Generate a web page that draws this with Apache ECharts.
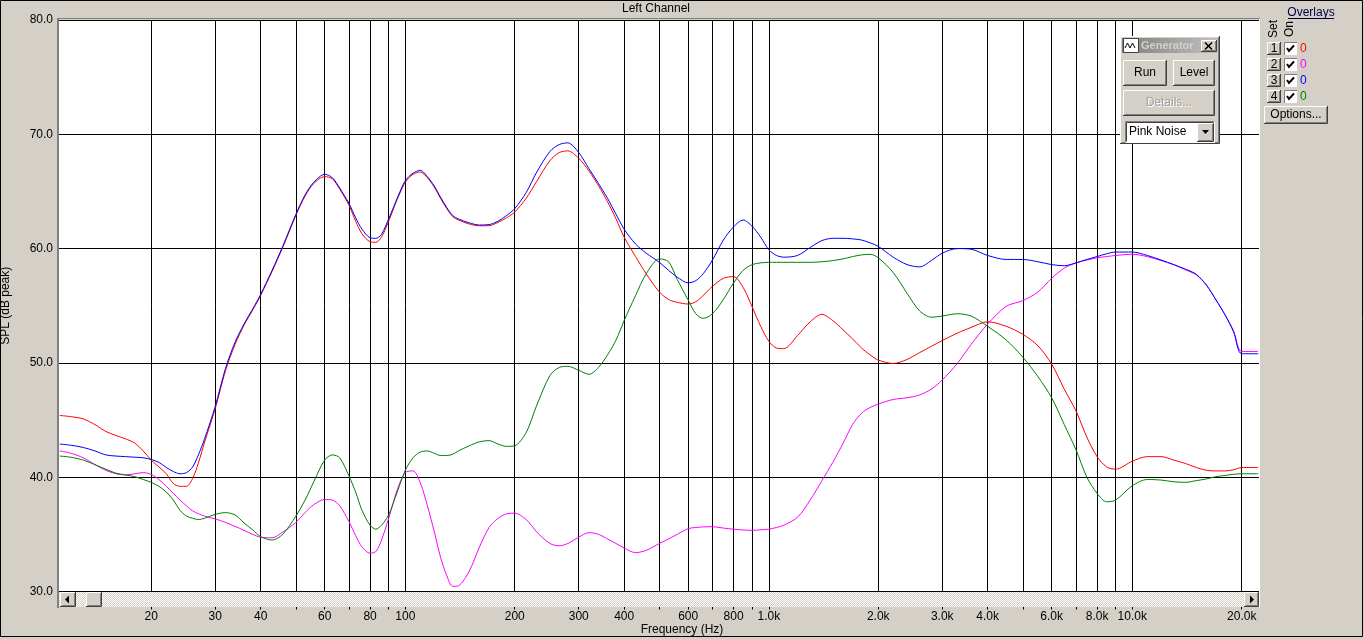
<!DOCTYPE html>
<html><head><meta charset="utf-8">
<script src="https://cdn.jsdelivr.net/npm/echarts@6/dist/echarts.min.js"></script>
<style>html,body{margin:0;padding:0;background:#D4D0C8;}#c{width:1364px;height:639px;}</style>
</head><body><div id="c"></div><script>
// Frequencies (Hz) shared by all overlays
const freqs = [11.2,12,13,14,15,16,17,18,19,20,
21,22,23,24,25,26,27,28,30,32,
34,36,38,40,43,46,50,53,56,60,
63,66,70,73,76,80,83,86,90,95,
100,105,110,115,120,125,130,135,140,150,
160,170,180,190,200,215,230,250,265,280,
300,320,340,360,380,400,430,460,500,530,
560,600,630,660,700,750,800,850,900,950,
1000,1050,1100,1200,1300,1400,1500,1600,1700,1800,
1900,2000,2200,2400,2600,2800,3000,3300,3600,4000,
4500,5000,5500,6000,6500,7000,7500,8000,8500,9000,
10000,11000,12000,13000,14000,15000,16000,17000,18000,19000,
20000,22200];
// Overlay 1 (red)
const set1 = [45.4,45.3,45.1,44.6,44.0,43.65,43.35,43.0,42.3,41.5,
40.9,40.3,39.45,39.2,39.2,39.9,41.3,43.0,46.0,49.3,
51.6,53.3,54.6,55.9,58.0,60.1,62.9,64.6,65.7,66.3,
66.1,65.2,63.8,62.4,61.3,60.6,60.55,61.0,62.4,64.3,
65.8,66.5,66.7,66.2,65.4,64.4,63.5,62.8,62.5,62.15,
62.0,62.0,62.3,62.7,63.2,64.4,65.9,67.7,68.4,68.55,
67.9,66.8,65.5,64.1,62.6,61.0,59.3,57.8,56.2,55.55,
55.3,55.15,55.35,55.9,56.7,57.4,57.55,56.6,54.9,53.2,
51.9,51.3,51.25,52.4,53.6,54.25,53.7,52.9,52.1,51.3,
50.7,50.25,49.95,50.3,50.9,51.45,51.95,52.6,53.1,53.6,
53.2,52.5,51.5,49.9,47.7,45.8,43.5,41.8,40.9,40.7,
41.4,41.8,41.8,41.5,41.2,40.85,40.6,40.55,40.55,40.65,
40.85,40.85];
// Overlay 2 (magenta)
const set2 = [42.3,42.1,41.7,41.1,40.6,40.3,40.2,40.3,40.4,40.25,
39.8,39.2,38.6,38.0,37.5,37.05,36.8,36.6,36.35,36.05,
35.7,35.35,35.0,34.75,34.7,35.2,36.05,36.9,37.6,38.05,
38.0,37.5,36.1,34.9,33.9,33.35,33.5,34.5,36.4,38.9,
40.4,40.55,39.5,37.5,35.3,33.0,31.4,30.45,30.5,31.8,
33.9,35.6,36.4,36.8,36.85,36.3,35.2,34.2,34.0,34.2,
34.75,35.15,35.0,34.6,34.2,33.8,33.4,33.6,34.2,34.6,
35.0,35.5,35.6,35.65,35.67,35.55,35.45,35.38,35.35,35.4,
35.45,35.6,35.8,36.5,38.0,39.7,41.3,42.95,44.6,45.6,
46.1,46.4,46.8,46.95,47.2,47.7,48.5,49.95,51.6,53.4,
54.95,55.45,56.2,57.4,58.3,58.75,59.0,59.2,59.3,59.4,
59.5,59.3,58.95,58.6,58.15,57.7,56.8,55.5,54.2,52.8,
51.0,51.0];
// Overlay 3 (blue)
const set3 = [42.9,42.8,42.6,42.3,41.95,41.85,41.8,41.75,41.7,41.55,
41.3,40.85,40.5,40.3,40.4,40.9,42.0,43.3,46.2,49.5,
51.8,53.4,54.7,56.0,58.1,60.2,63.0,64.7,65.8,66.5,
66.2,65.3,63.95,62.7,61.7,60.95,60.9,61.25,62.6,64.4,
65.95,66.6,66.85,66.3,65.5,64.5,63.6,62.9,62.6,62.25,
62.06,62.1,62.4,62.9,63.5,64.9,66.7,68.5,69.1,69.25,
68.4,67.0,65.7,64.4,63.0,61.7,60.4,59.6,58.8,58.1,
57.5,57.0,57.2,57.8,59.0,60.75,61.9,62.5,61.95,61.0,
59.9,59.4,59.25,59.4,60.1,60.7,60.9,60.9,60.85,60.75,
60.5,60.2,59.25,58.6,58.4,58.95,59.6,60.0,59.95,59.4,
59.05,59.05,58.85,58.6,58.5,58.75,59.05,59.3,59.55,59.7,
59.7,59.4,59.0,58.6,58.2,57.75,56.8,55.5,54.2,52.7,
50.8,50.8];
// Overlay 4 (green)
const set4 = [41.85,41.75,41.5,41.1,40.7,40.35,40.2,40.05,39.8,39.55,
39.2,38.7,38.0,37.1,36.6,36.4,36.3,36.4,36.75,36.9,
36.7,36.0,35.4,34.8,34.5,35.0,36.6,38.0,39.6,41.5,
41.95,41.7,40.1,38.7,37.1,35.8,35.45,35.8,36.7,38.7,
40.6,41.7,42.2,42.3,42.1,41.9,41.9,42.0,42.3,42.75,
43.1,43.2,42.9,42.7,42.75,43.9,46.3,48.9,49.6,49.7,
49.35,49.0,49.6,50.7,52.0,53.7,55.9,57.8,59.1,58.85,
57.3,55.5,54.3,53.9,54.3,55.55,57.0,58.1,58.6,58.75,
58.8,58.8,58.8,58.8,58.8,58.85,58.95,59.1,59.3,59.45,
59.5,59.2,57.9,56.1,54.55,54.0,54.1,54.3,54.1,53.2,
52.0,50.5,48.8,46.95,44.6,42.4,40.0,38.6,37.85,38.0,
39.25,39.8,39.75,39.6,39.55,39.7,39.85,40.05,40.15,40.25,
40.3,40.3];
// Axis ticks
const gridFreqs = [20,30,40,50,60,70,80,90,100,200,300,400,500,600,700,800,900,1000,
2000,3000,4000,5000,6000,7000,8000,9000,10000,20000];
const labelFreqs = [20,30,40,60,80,100,200,300,400,600,800,1000,2000,3000,4000,6000,8000,10000,20000];
const yTicks = [30,40,50,60,70,80];
const overlayNames = ['1','2','3','4'];
const overlayVals = ['0','0','0','0'];

const colors = ['#FF0000','#FF00FF','#0000FF','#008000'];
const FONT = '"Liberation Sans", Arial, sans-serif';
const chart = echarts.init(document.getElementById('c'));

const pc = document.createElement('canvas'); pc.width = 2; pc.height = 2;
const pctx = pc.getContext('2d');
pctx.fillStyle = '#D4D0C8'; pctx.fillRect(0,0,2,2);
pctx.fillStyle = '#FFFFFF'; pctx.fillRect(0,0,1,1); pctx.fillRect(1,1,1,1);

function btn3d(x,y,w,h,z){
  return [
    {type:'rect', z, shape:{x,y,width:w,height:h}, style:{fill:'#D4D0C8'}},
    {type:'polyline', z, shape:{points:[[x+0.5,y+h-1],[x+0.5,y+0.5],[x+w-1,y+0.5]]}, style:{stroke:'#FFFFFF',lineWidth:1,fill:null}},
    {type:'polyline', z, shape:{points:[[x+1.5,y+h-1.5],[x+w-1.5,y+h-1.5],[x+w-1.5,y+1]]}, style:{stroke:'#808080',lineWidth:1,fill:null}},
    {type:'polyline', z, shape:{points:[[x,y+h-0.5],[x+w-0.5,y+h-0.5],[x+w-0.5,y]]}, style:{stroke:'#404040',lineWidth:1,fill:null}}
  ];
}
function txt(x,y,s,opt){
  opt = opt || {};
  return {type:'text', z: opt.z || 50, x, y, rotation: opt.rot || 0,
    style:{text:s, font:(opt.weight||'normal')+' '+(opt.size||12)+'px '+FONT, fill:opt.fill||'#000',
      align:opt.align||'center', verticalAlign:'middle'}};
}

const g = [];
// outer frame
g.push({type:'rect', z:1, shape:{x:0.5,y:0.5,width:1362,height:636}, style:{fill:null,stroke:'#000',lineWidth:1}});
// plot 3D border
g.push({type:'rect', z:40, shape:{x:57,y:18,width:2,height:590}, style:{fill:'#808080'}});
g.push({type:'line', z:40, shape:{x1:57,y1:18.5,x2:1260,y2:18.5}, style:{stroke:'#808080',lineWidth:1}});
g.push({type:'line', z:40, shape:{x1:1259.5,y1:19,x2:1259.5,y2:608}, style:{stroke:'#FFFFFF',lineWidth:1}});
// scrollbar
g.push({type:'rect', z:40, shape:{x:59,y:592,width:1200,height:15}, style:{fill:{image:pc, repeat:'repeat'}}});
g.push(...btn3d(60,592,16,15,41));
g.push({type:'polygon', z:42, shape:{points:[[65,599.5],[69,595.5],[69,603.5]]}, style:{fill:'#000'}});
g.push(...btn3d(86,592,16,15,41));
g.push(...btn3d(1244,592,15,15,41));
g.push({type:'polygon', z:42, shape:{points:[[1254,599.5],[1250,595.5],[1250,603.5]]}, style:{fill:'#000'}});
// titles
g.push(txt(656,9,'Left Channel'));
g.push(txt(682,630,'Frequency (Hz)'));

// Generator window
const Z = 100;
g.push(...btn3d(1120,36,100,108,Z));
g.push({type:'rect', z:Z, shape:{x:1122,y:38,width:96,height:15},
  style:{fill:new echarts.graphic.LinearGradient(0,0,1,0,[{offset:0,color:'#808080'},{offset:1,color:'#C0C0C0'}])}});
g.push({type:'rect', z:Z, shape:{x:1123.5,y:38.5,width:15,height:14}, style:{fill:'#FFFFFF',stroke:'#404040',lineWidth:1}});
g.push({type:'polyline', z:Z, shape:{points:[[1125,48],[1127.5,43],[1130,48],[1132.5,43],[1135,48]]}, style:{stroke:'#000',lineWidth:1,fill:null}});
g.push(txt(1141,46,'Generator',{z:Z,align:'left',weight:'bold',fill:'#D4D0C8',size:11}));
g.push(...btn3d(1201,40,16,12,Z));
g.push({type:'line', z:Z, shape:{x1:1205,y1:42.5,x2:1212,y2:49.5}, style:{stroke:'#000',lineWidth:1.6}});
g.push({type:'line', z:Z, shape:{x1:1212,y1:42.5,x2:1205,y2:49.5}, style:{stroke:'#000',lineWidth:1.6}});
g.push(...btn3d(1123,60,44,26,Z));
g.push(txt(1145,73,'Run',{z:Z}));
g.push(...btn3d(1173,60,42,26,Z));
g.push(txt(1194,73,'Level',{z:Z}));
g.push(...btn3d(1123,90,92,26,Z));
g.push(txt(1170,104,'Details...',{z:Z,fill:'#FFFFFF'}));
g.push(txt(1169,103,'Details...',{z:Z,fill:'#A0A0A0'}));
g.push({type:'rect', z:Z, shape:{x:1125,y:121,width:90,height:22}, style:{fill:'#FFFFFF'}});
g.push({type:'polyline', z:Z, shape:{points:[[1125.5,142.5],[1125.5,121.5],[1214.5,121.5]]}, style:{stroke:'#808080',lineWidth:1,fill:null}});
g.push({type:'polyline', z:Z, shape:{points:[[1126.5,141.5],[1126.5,122.5],[1213.5,122.5]]}, style:{stroke:'#404040',lineWidth:1,fill:null}});
g.push(txt(1129,132,'Pink Noise',{z:Z,align:'left'}));
g.push(...btn3d(1197,123,17,19,Z));
g.push({type:'polygon', z:Z, shape:{points:[[1202,130],[1209,130],[1205.5,134]]}, style:{fill:'#000'}});

// Overlays panel
g.push(txt(1311,13,'Overlays',{fill:'#000040'}));
g.push({type:'line', z:50, shape:{x1:1288,y1:18.5,x2:1334,y2:18.5}, style:{stroke:'#000040',lineWidth:1}});
g.push(txt(1274,29,'Set',{rot:Math.PI/2}));
g.push(txt(1290,29,'On',{rot:Math.PI/2}));
overlayNames.forEach((n,i)=>{
  const y0 = 42 + 16*i;
  g.push(...btn3d(1267,y0,14,13,50));
  g.push(txt(1274,y0+6.5,n,{z:51}));
  g.push({type:'rect', z:50, shape:{x:1284,y:y0,width:13,height:13}, style:{fill:'#FFFFFF'}});
  g.push({type:'polyline', z:51, shape:{points:[[1284.5,y0+13],[1284.5,y0+0.5],[1297,y0+0.5]]}, style:{stroke:'#808080',lineWidth:1,fill:null}});
  g.push({type:'polyline', z:51, shape:{points:[[1287,y0+6],[1289,y0+9],[1294,y0+3.5]]}, style:{stroke:'#000',lineWidth:2,fill:null}});
  g.push(txt(1300,y0+6.5,overlayVals[i],{z:51,align:'left',fill:colors[i]}));
});
g.push(...btn3d(1264,106,64,18,50));
g.push(txt(1296,115,'Options...',{z:51}));

const lg = v => Math.log10(v);
const sets = [set1,set2,set3,set4];
const order = [0,1,3,2];

chart.setOption({
  backgroundColor:'#D4D0C8',
  animation:false,
  grid:{left:59, right:105, top:20, bottom:47.5, show:true, backgroundColor:'#FFFFFF', borderWidth:0,
    containLabel:false, outerBoundsMode:'none'},
  xAxis:{
    type:'value', min:lg(11.15), max:4.3486, offset:15,
    axisLine:{show:false},
    axisTick:{show:true, length:3, customValues:gridFreqs.map(lg), lineStyle:{color:'#000'}},
    axisLabel:{customValues:labelFreqs.map(lg), margin:4, color:'#000', fontSize:12, fontFamily:FONT,
      formatter:v=>{const f=Math.round(Math.pow(10,v)); return f>=1000 ? (f/1000).toFixed(1)+'k' : String(f);}},
    splitLine:{show:true, lineStyle:{color:'#000', width:1}}
  },
  yAxis:{
    type:'value', min:30, max:80, interval:10,
    name:'SPL (dB peak)', nameLocation:'middle', nameGap:47, nameTextStyle:{color:'#000',fontSize:12,fontFamily:FONT},
    axisLine:{show:false}, axisTick:{show:false},
    axisLabel:{color:'#000', fontSize:12, fontFamily:FONT, margin:6, formatter:v=>v.toFixed(1)},
    splitLine:{show:true, lineStyle:{color:'#000', width:1}}
  },
  series: order.map(i=>({
    type:'line', name:overlayNames[i], showSymbol:false, smooth:0.3,
    lineStyle:{color:colors[i], width:1}, itemStyle:{color:colors[i]},
    data: freqs.map((f,k)=>[lg(f), sets[i][k]])
  })),
  graphic: g
});
</script></body></html>
